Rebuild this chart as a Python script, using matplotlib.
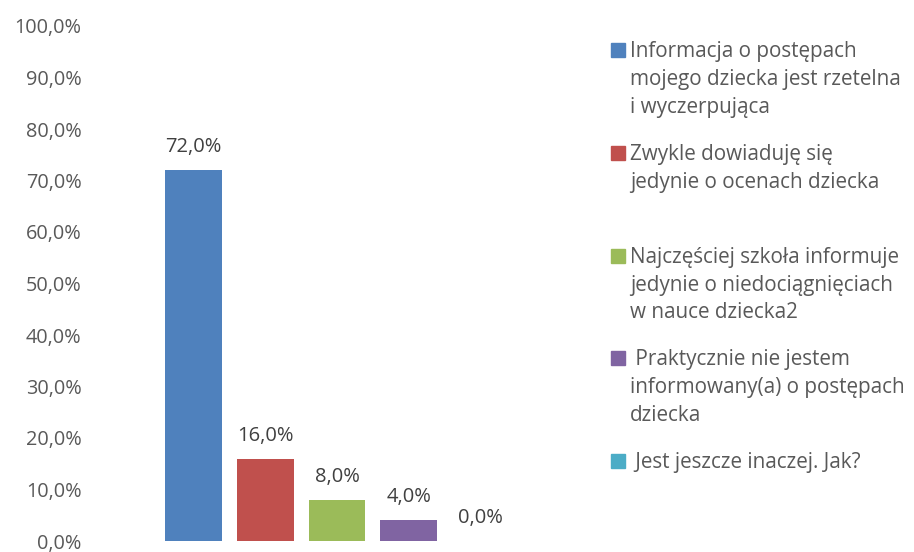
import matplotlib
matplotlib.use("Agg")
import matplotlib.pyplot as plt
from matplotlib.patches import Rectangle

categories = [
    "Informacja o postępach\nmojego dziecka jest rzetelna\ni wyczerpująca",
    "Zwykle dowiaduję się\njedynie o ocenach dziecka",
    "Najczęściej szkoła informuje\njedynie o niedociągnięciach\nw nauce dziecka2",
    " Praktycznie nie jestem\ninformowany(a) o postępach\ndziecka",
    " Jest jeszcze inaczej. Jak?",
]
values = [72.0, 16.0, 8.0, 4.0, 0.0]
colors = ["#4F81BD", "#C0504D", "#9BBB59", "#8064A2", "#4BACC6"]
yticks = [0, 10, 20, 30, 40, 50, 60, 70, 80, 90, 100]
ytick_labels = ["0,0%", "10,0%", "20,0%", "30,0%", "40,0%", "50,0%",
                "60,0%", "70,0%", "80,0%", "90,0%", "100,0%"]

plt.rcParams["font.family"] = ["Open Sans", "DejaVu Sans"]

W, H = 914, 552
fig = plt.figure(figsize=(W / 100, H / 100), dpi=100)
ax = fig.add_axes([158 / W, 1 - 541 / H, (516 - 158) / W, (541 - 26) / H])

x = list(range(len(values)))
ax.bar(x, values, width=0.795, color=colors)
for xi, v in zip(x, values):
    ax.annotate(f"{v:.1f}%".replace(".", ","), (xi, v), xytext=(0, 13),
                textcoords="offset points", ha="center", va="baseline",
                fontsize=14.5, color="#404040")

ax.set_xlim(-0.5, len(values) - 0.5)
ax.set_ylim(0, 100)
ax.set_yticks(yticks)
ax.set_yticklabels(ytick_labels)
ax.set_xticks([])
ax.tick_params(axis="y", length=0, pad=55, labelsize=14.3, labelcolor="#595959")
for s in ax.spines.values():
    s.set_visible(False)

# legend, placed manually to mirror the reference layout
first_baseline = 57
entry_step = 102.75
line_step = 28
for i, (cat, col) in enumerate(zip(categories, colors)):
    b = first_baseline + i * entry_step
    fig.patches.append(Rectangle((611 / W, 1 - b / H), 14 / W, 14 / H,
                                 transform=fig.transFigure, color=col))
    for j, line in enumerate(cat.split("\n")):
        fig.text(630 / W, 1 - (b + j * line_step) / H, line, ha="left",
                 va="baseline", fontsize=14.9, color="#595959")

fig.savefig("out.png", dpi=100)
